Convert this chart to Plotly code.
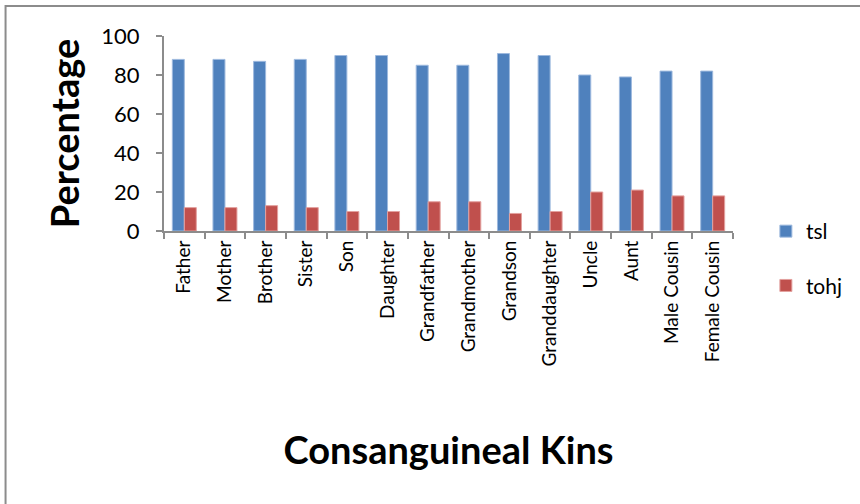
import plotly.graph_objects as go

categories = ["Father", "Mother", "Brother", "Sister", "Son", "Daughter", "Grandfather",
              "Grandmother", "Grandson", "Granddaughter", "Uncle", "Aunt", "Male Cousin", "Female Cousin"]
tsl = [88, 88, 87, 88, 90, 90, 85, 85, 91, 90, 80, 79, 82, 82]
tohj = [12, 12, 13, 12, 10, 10, 15, 15, 9, 10, 20, 21, 18, 18]

FONT = "Lato"

fig = go.Figure()
fig.add_trace(go.Bar(x=categories, y=tsl, name="tsl", legendgroup="a",
                     marker=dict(color="#4F81BD", line=dict(color="#9DB9DE", width=1))))
fig.add_trace(go.Bar(x=categories, y=tohj, name="tohj", legendgroup="b",
                     marker=dict(color="#C0504D", line=dict(color="#E3A19F", width=1))))

W, H = 860, 504
L, R, T, B = 164, 860 - 735, 36, 504 - 231
pw = W - L - R
ph = H - T - B

fig.update_layout(
    width=W, height=H,
    margin=dict(l=L, r=R, t=T, b=B, pad=0),
    paper_bgcolor="white", plot_bgcolor="white",
    font=dict(family=FONT, color="black", size=18),
    barmode="group", bargap=0.41, bargroupgap=0,
    showlegend=True,
    legend=dict(x=(768 - L) / pw, y=(231 - 211) / ph, xanchor="left", yanchor="top",
                font=dict(size=21, family=FONT), tracegroupgap=24,
                traceorder="grouped", itemwidth=30),
    xaxis=dict(
        tickangle=-90, tickfont=dict(size=19, family=FONT),
        showline=True, linecolor="#8C8C8C", linewidth=2,
        ticks="outside", ticklen=6, tickcolor="#8C8C8C", tickwidth=2,
        tickson="boundaries", showgrid=False,
        title=dict(text="<b>Consanguineal Kins</b>", font=dict(size=38, family=FONT), standoff=72),
    ),
    yaxis=dict(
        range=[0, 100], dtick=20, tickfont=dict(size=22, family=FONT),
        showline=True, linecolor="#8C8C8C", linewidth=2,
        ticks="outside", ticklen=6, tickcolor="#8C8C8C", tickwidth=2,
        ticklabelstandoff=12,
        showgrid=False, zeroline=False,
        title=dict(text="<b>Percentage</b>", font=dict(size=38, family=FONT), standoff=10),
    ),
    shapes=[dict(type="rect", xref="paper", yref="paper",
                 x0=(5 - L) / pw, x1=1.5, y0=-3, y1=(231 - 6) / ph,
                 line=dict(color="#8C8C8C", width=2), layer="below")],
)

fig.write_html("out.html", config={"displayModeBar": False},
               post_script="document.body.style.margin='0';")
